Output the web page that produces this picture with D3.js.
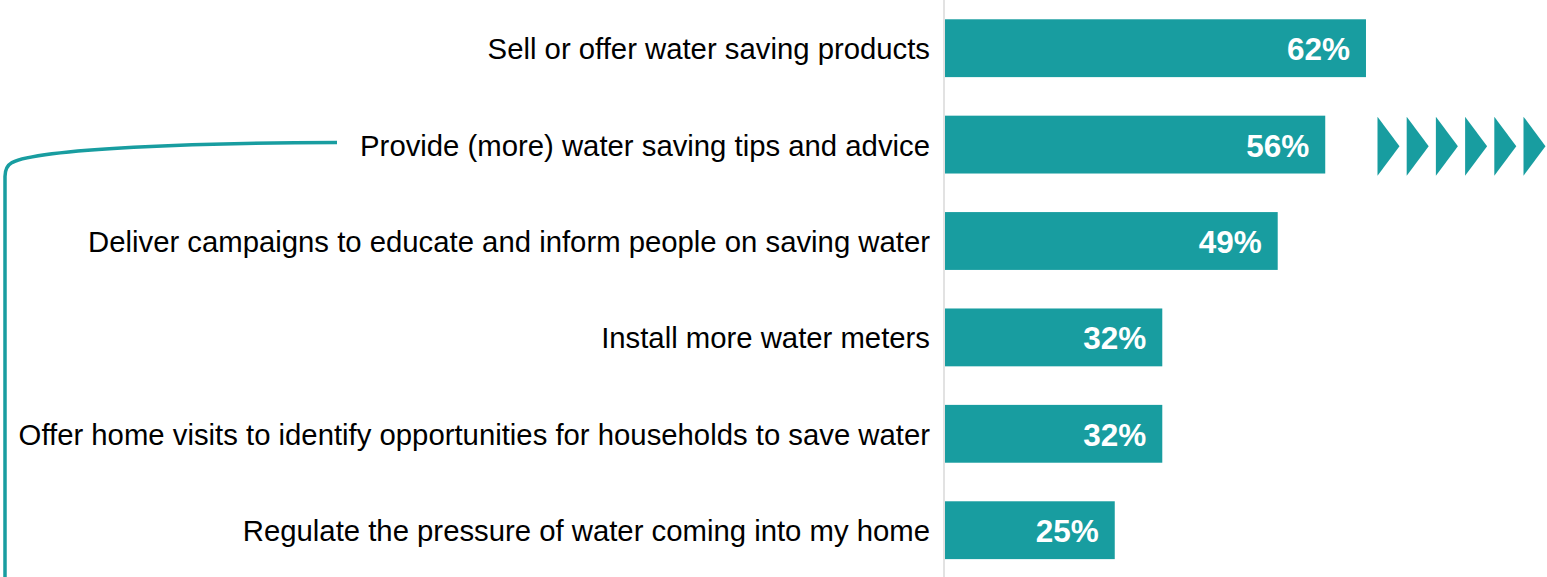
<!DOCTYPE html>
<html>
<head>
<meta charset="utf-8">
<script src="https://cdn.jsdelivr.net/npm/d3@7"></script>
<style>
  html, body { margin: 0; padding: 0; background: #ffffff; }
  svg { display: block; }
</style>
</head>
<body>
<script>
// Share of respondents choosing each water-saving action
const categories = [
  "Sell or offer water saving products",
  "Provide (more) water saving tips and advice",
  "Deliver campaigns to educate and inform people on saving water",
  "Install more water meters",
  "Offer home visits to identify opportunities for households to save water",
  "Regulate the pressure of water coming into my home"
];
const values = [62, 56, 49, 32, 32, 25];
const valueLabels = ["62%", "56%", "49%", "32%", "32%", "25%"];
const chevronCount = 6;

const W = 1547, H = 577;
const teal = "#189da0";

const svg = d3.select("body").append("svg")
  .attr("width", W).attr("height", H);

const x = d3.scaleLinear().domain([0, 100]).range([945, 945 + 679]);
const y = d3.scaleBand().domain(categories).range([0, 578.4])
  .paddingInner(0.4).paddingOuter(0.2);

// value axis baseline
svg.append("line")
  .attr("x1", 944).attr("x2", 944)
  .attr("y1", 0).attr("y2", H)
  .attr("stroke", "#d9d9d9").attr("stroke-width", 1.5);

// bars
svg.selectAll("rect.bar").data(values).join("rect")
  .attr("class", "bar")
  .attr("x", x(0))
  .attr("y", (d, i) => y(categories[i]))
  .attr("width", d => x(d) - x(0))
  .attr("height", y.bandwidth())
  .attr("fill", teal);

// value labels inside the bars
svg.selectAll("text.val").data(values).join("text")
  .attr("class", "val")
  .attr("x", d => x(d) - 16)
  .attr("y", (d, i) => y(categories[i]) + y.bandwidth() / 2 + 12)
  .attr("text-anchor", "end")
  .attr("font-family", "'Liberation Sans', Arial, sans-serif")
  .attr("font-weight", "bold")
  .attr("font-size", 31.5)
  .attr("fill", "#ffffff")
  .text((d, i) => valueLabels[i]);

// category labels
svg.selectAll("text.cat").data(categories).join("text")
  .attr("class", "cat")
  .attr("x", 930)
  .attr("y", d => y(d) + y.bandwidth() / 2 + 11)
  .attr("text-anchor", "end")
  .attr("font-family", "'Liberation Sans', Arial, sans-serif")
  .attr("font-size", 29.3)
  .attr("fill", "#000000")
  .text(d => d);

// bracket linking the advice item down the left side
const yAdvice = y(categories[1]) + y.bandwidth() / 2 - 2;
svg.append("path")
  .attr("d", `M 337 ${yAdvice} C 200 ${yAdvice}, 40 ${yAdvice + 6}, 12 ${yAdvice + 20} Q 5 ${yAdvice + 24} 5 ${yAdvice + 34} L 5 ${H}`)
  .attr("fill", "none")
  .attr("stroke", teal)
  .attr("stroke-width", 3.5);

// row of arrow chevrons next to the advice bar
const cy = y(categories[1]);
const chevrons = d3.range(chevronCount);
svg.selectAll("path.chev").data(chevrons).join("path")
  .attr("class", "chev")
  .attr("d", i => {
    const x0 = 1377.5 + i * 29.2;
    return `M ${x0} ${cy + 1} L ${x0 + 22} ${cy + 30.5} L ${x0} ${cy + 60} Z`;
  })
  .attr("fill", teal);
</script>
</body>
</html>
